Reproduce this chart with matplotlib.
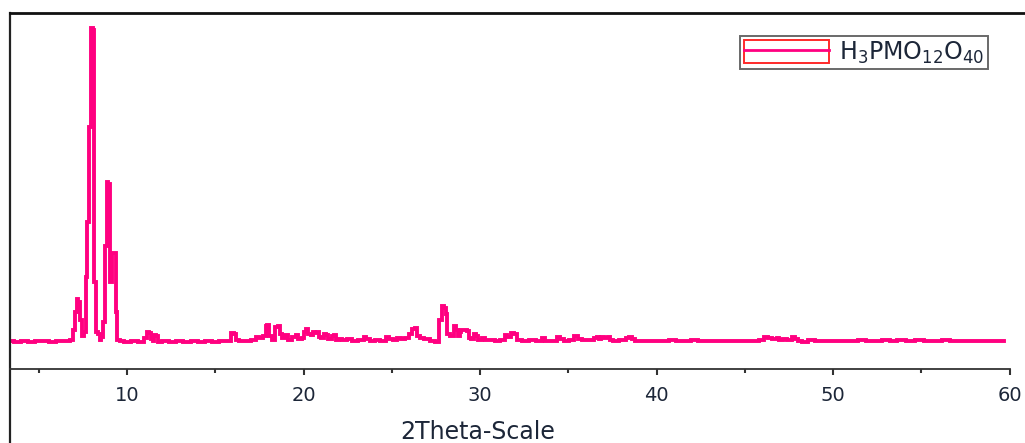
import matplotlib
matplotlib.use("Agg")
import matplotlib.pyplot as plt
from matplotlib.patches import Rectangle
from matplotlib.lines import Line2D
from matplotlib.legend_handler import HandlerTuple

two_theta = [3.4, 3.8, 4.2, 4.6, 5.0, 5.4, 5.8, 6.2, 6.6, 6.9, 7.0, 7.1, 7.2, 7.3, 7.4, 7.5, 7.6,
             7.7, 7.8, 7.9, 8.0, 8.1, 8.2, 8.3, 8.4, 8.5, 8.6, 8.7, 8.8, 8.9, 9.0, 9.1, 9.2, 9.3,
             9.4, 9.5, 9.7, 10.0, 10.4, 10.8, 11.1, 11.2, 11.3, 11.4, 11.5, 11.6, 11.7, 11.8,
             12.2, 12.6, 13.0, 13.4, 13.8, 14.2, 14.6, 15.0, 15.4, 15.8, 16.0, 16.1, 16.2, 16.5,
             16.9, 17.2, 17.4, 17.6, 17.8, 17.9, 18.0, 18.1, 18.3, 18.5, 18.6, 18.7, 18.9, 19.0,
             19.2, 19.5, 19.6, 19.8, 20.0, 20.1, 20.2, 20.3, 20.5, 20.6, 20.7, 20.8, 20.9, 21.1,
             21.2, 21.3, 21.5, 21.7, 21.8, 21.9, 22.1, 22.3, 22.6, 22.9, 23.3, 23.5, 23.6, 23.9,
             24.2, 24.5, 24.8, 24.9, 25.2, 25.4, 25.6, 25.9, 26.1, 26.2, 26.4, 26.5, 26.7, 27.0,
             27.3, 27.6, 27.8, 27.9, 28.0, 28.1, 28.2, 28.4, 28.6, 28.7, 28.8, 28.9, 29.0, 29.2,
             29.3, 29.4, 29.6, 29.7, 29.8, 30.0, 30.2, 30.4, 30.7, 31.0, 31.3, 31.5, 31.6, 31.9,
             32.0, 32.2, 32.6, 33.0, 33.4, 33.6, 33.8, 34.2, 34.5, 34.6, 34.9, 35.2, 35.5, 35.6,
             35.9, 36.3, 36.6, 36.7, 36.8, 36.9, 37.2, 37.3, 37.4, 37.7, 38.1, 38.4, 38.5, 38.7,
             38.9, 39.5, 40.0, 40.5, 40.9, 41.3, 41.8, 42.1, 42.6, 43.1, 43.6, 44.1, 44.6, 45.1,
             45.6, 46.0, 46.2, 46.4, 46.7, 46.9, 47.0, 47.3, 47.5, 47.8, 47.9, 48.1, 48.4, 48.8,
             49.2, 49.7, 50.2, 50.7, 51.2, 51.6, 52.1, 52.6, 53.0, 53.4, 53.9, 54.4, 54.9, 55.4,
             55.9, 56.4, 56.9, 57.4, 57.9, 58.4, 58.9, 59.4, 59.7]
intensity = [1, 0, 1, 0, 1, 1, 0, 1, 1, 2, 12, 30, 43, 40, 22, 6, 10,
             65, 120, 215, 314, 312, 60, 10, 8, 2, 5, 20, 96, 160, 158, 60, 89, 89,
             30, 2, 1, 0, 1, 0, 4, 10, 9, 3, 1, 7, 6, 0,
             1, 0, 1, 0, 1, 0, 1, 0, 1, 1, 9, 8, 2, 1,
             1, 2, 5, 4, 6, 16, 17, 6, 2, 15, 16, 8, 4, 7,
             2, 5, 7, 3, 4, 10, 13, 8, 7, 10, 9, 10, 5, 4,
             8, 7, 3, 6, 7, 2, 3, 2, 3, 1, 2, 5, 3, 1,
             2, 1, 5, 3, 2, 4, 3, 4, 8, 13, 14, 6, 4, 3,
             1, 0, 22, 36, 34, 28, 8, 6, 16, 12, 6, 10, 12, 12,
             11, 4, 3, 8, 6, 2, 4, 2, 2, 1, 2, 7, 5, 9,
             8, 2, 1, 2, 1, 4, 1, 1, 5, 3, 1, 2, 6, 3,
             2, 2, 4, 5, 3, 5, 4, 5, 2, 1, 2, 4, 5, 3,
             1, 1, 1, 1, 2, 1, 1, 2, 1, 1, 1, 1, 1, 1,
             1, 2, 5, 4, 3, 4, 2, 3, 2, 5, 3, 1, 0, 2,
             1, 1, 1, 1, 1, 2, 1, 1, 2, 1, 2, 1, 2, 1,
             1, 2, 1, 1, 1, 1, 1, 1, 1]
major_ticks = [10, 20, 30, 40, 50, 60]
minor_ticks = [5, 15, 25, 35, 45, 55]
series_label = r"H$_3$PMO$_{12}$O$_{40}$"
x_label = "2Theta-Scale"

line_color = "#FF0080"
text_color = "#1c2638"

plt.rcParams["font.family"] = ["DejaVu Sans"]
plt.rcParams["mathtext.fontset"] = "dejavusans"
fig = plt.figure(figsize=(10.25, 4.43), dpi=100)
W, H = 1025.0, 443.0
# axes: left px 10, right px 1045 (beyond figure), top px 13, bottom px 460
ax = fig.add_axes([10 / W, 1 - 460 / H, 1035 / W, 447 / H])
ax.set_xlim(3.371, 62.01)
ax.set_ylim(-118, 329)

ax.plot(two_theta, intensity, color=line_color, lw=2.8, drawstyle="steps-mid",
        solid_joinstyle="miter")

ax.spines["right"].set_visible(False)
ax.spines["top"].set_linewidth(2.0)
ax.spines["top"].set_color("#111111")
ax.spines["left"].set_linewidth(1.6)
ax.spines["left"].set_color("#222222")
ax.spines["bottom"].set_position(("data", -27))
ax.spines["bottom"].set_bounds(3.371, 60)
ax.spines["bottom"].set_linewidth(1.3)
ax.spines["bottom"].set_color("#333333")

ax.set_yticks([])
ax.set_xticks(major_ticks)
ax.set_xticks(minor_ticks, minor=True)
ax.tick_params(axis="x", which="major", direction="out", length=4, width=1.5,
               colors="#333333", labelcolor=text_color, labelsize=14, pad=8)
ax.tick_params(axis="x", which="minor", direction="out", length=3, width=1.5, colors="#333333")

fig.text(478 / W, 1 - 432 / H, x_label, ha="center", va="center", fontsize=17,
         color=text_color)

box = Rectangle((0, 0), 1, 1, facecolor="none", edgecolor="#ff2a2a", lw=1.4)
hline = Line2D([0], [0], color=line_color, lw=2.0)
leg = ax.legend([(box, hline)], [series_label],
                handler_map={tuple: HandlerTuple(ndivide=1, pad=0)},
                loc="upper right", bbox_to_anchor=(988 / W, 1 - 36 / H),
                bbox_transform=fig.transFigure, frameon=True, fancybox=False,
                fontsize=17, handlelength=3.6, handleheight=1.1, handletextpad=0.45,
                borderpad=0.15, borderaxespad=0)
leg.get_frame().set_edgecolor("#444444")
leg.get_frame().set_linewidth(1.4)
for t in leg.get_texts():
    t.set_color(text_color)

fig.savefig("out.png", dpi=100)
